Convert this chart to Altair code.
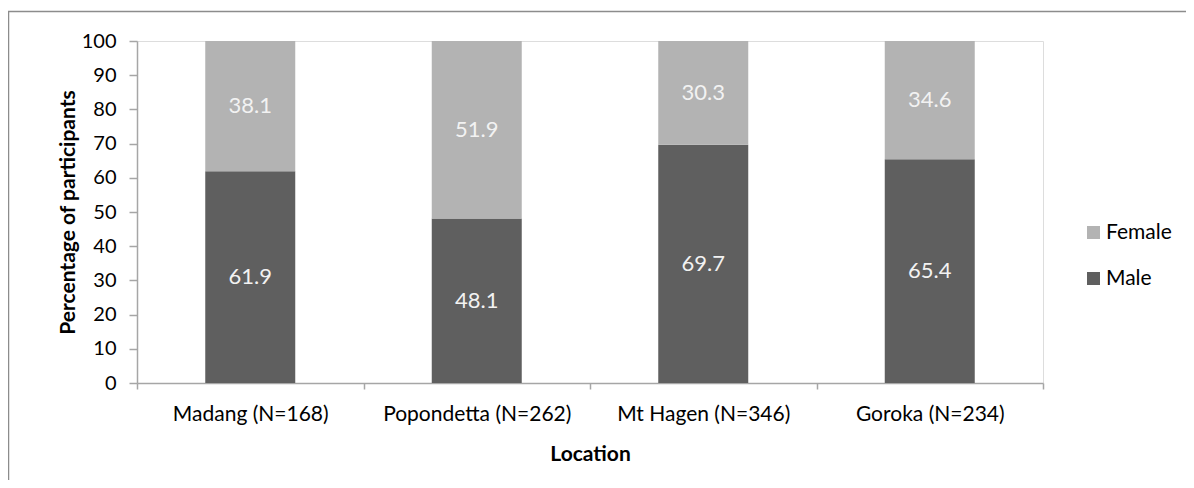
import altair as alt
import pandas as pd

locations = ["Madang (N=168)", "Popondetta (N=262)", "Mt Hagen (N=346)", "Goroka (N=234)"]
male = [61.9, 48.1, 69.7, 65.4]
female = [38.1, 51.9, 30.3, 34.6]
y_ticks = [0, 10, 20, 30, 40, 50, 60, 70, 80, 90, 100]

rows = []
for loc, m, f in zip(locations, male, female):
    rows.append({"Location": loc, "Sex": "Male", "Pct": m, "ord": 0})
    rows.append({"Location": loc, "Sex": "Female", "Pct": f, "ord": 1})
df = pd.DataFrame(rows)

FONT = "Lato"
AXIS_GRAY = "#a6a6a6"

x_axis = alt.Axis(
    tickBand="extent", labelAngle=0, tickSize=6, labelPadding=14, labelLimit=400,
    domainColor=AXIS_GRAY, tickColor=AXIS_GRAY, labelColor="#000000",
    labelFontSize=21, titleFontSize=21, titleFontWeight="bold",
    titlePadding=19, labelFont=FONT, titleFont=FONT, grid=False,
    domainWidth=1.5, tickWidth=1.5,
)
y_axis = alt.Axis(
    values=y_ticks, tickSize=8, labelPadding=13,
    labelOverlap=False, labelSeparation=0,
    domainColor=AXIS_GRAY, tickColor=AXIS_GRAY, labelColor="#000000",
    labelFontSize=20, titleFontSize=21, titleFontWeight="bold",
    titlePadding=3, labelFont=FONT, titleFont=FONT, grid=False,
    domainWidth=1.5, tickWidth=1.5,
)
x_scale = alt.Scale(paddingInner=0, paddingOuter=0)
y_scale = alt.Scale(domain=[0, 100], nice=False)

base = alt.Chart(df)

bars = base.mark_bar(size=90).encode(
    x=alt.X("Location:N", sort=locations, title="Location", scale=x_scale, axis=x_axis),
    y=alt.Y("Pct:Q", stack="zero", title="Percentage of participants",
            scale=y_scale, axis=y_axis),
    color=alt.Color(
        "Sex:N",
        scale=alt.Scale(domain=["Female", "Male"], range=["#b3b3b3", "#5f5f5f"]),
        legend=alt.Legend(
            title=None, orient="none", legendX=946, legendY=181,
            symbolType="square", symbolSize=169, symbolStrokeWidth=0,
            labelFontSize=21, labelFont=FONT, labelColor="#000000",
            rowPadding=24, labelOffset=2,
        ),
    ),
    order=alt.Order("ord:Q", sort="ascending"),
)

labels = base.transform_stack(
    stack="Pct", groupby=["Location"], sort=[alt.SortField("ord", order="ascending")],
    as_=["y0", "y1"],
).transform_calculate(
    mid="(datum.y0 + datum.y1) / 2",
    txt="format(datum.Pct, '.1f')",
).mark_text(
    font=FONT, fontSize=22, color="#f2f2f2", baseline="middle", align="center",
).encode(
    x=alt.X("Location:N", sort=locations, scale=x_scale, axis=None),
    y=alt.Y("mid:Q", scale=y_scale, axis=None),
    text="txt:N",
)

frame = alt.Chart(pd.DataFrame({"k": [0]})).mark_rect(
    fill=None, stroke="#8c8c8c", strokeWidth=1.5
).encode(
    x=alt.value(-128.5), x2=alt.value(1300), y=alt.value(-29.5), y2=alt.value(700)
)

chart = alt.layer(bars, labels, frame).resolve_axis(
    x="independent", y="independent"
).properties(
    width=906, height=342,
    autosize=alt.AutoSizeParams(type="none"),
    padding={"left": 129, "top": 33, "right": 143, "bottom": 97},
).configure_view(strokeWidth=0).configure(background="white")

chart.save("out.html", embed_options={"renderer": "svg", "actions": False})
